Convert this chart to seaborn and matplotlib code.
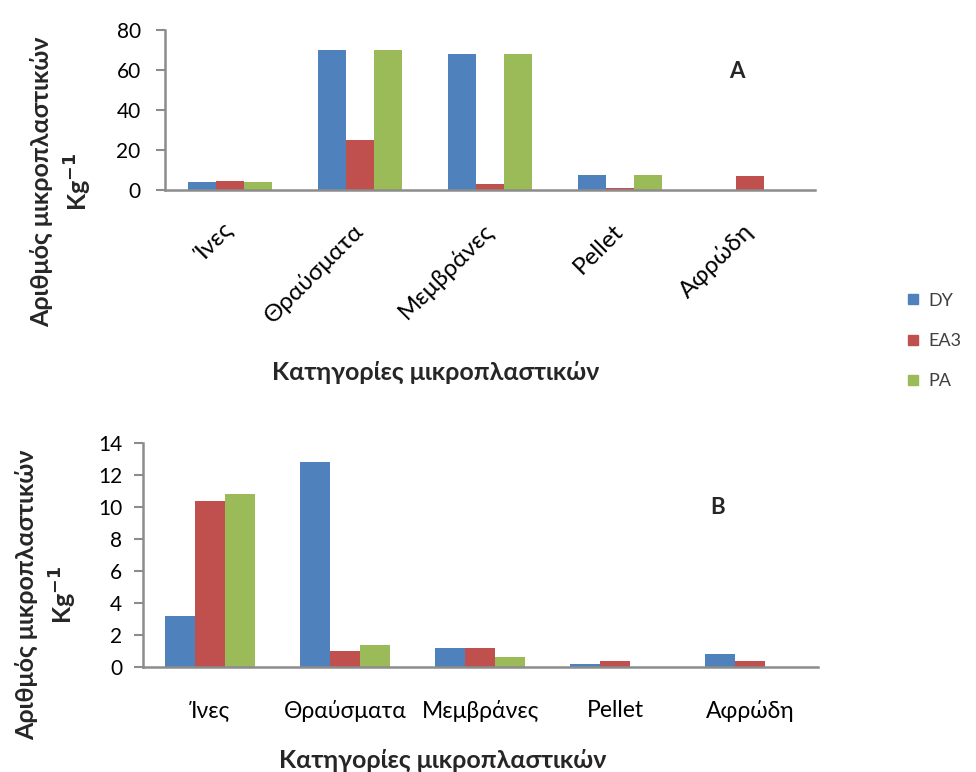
import matplotlib
matplotlib.use("Agg")
import matplotlib.pyplot as plt
import seaborn as sns
import pandas as pd
from matplotlib.lines import Line2D

sns.set_theme(style="white")
plt.rcParams['font.family'] = ['Lato', 'Open Sans', 'DejaVu Sans']

categories = ["Ίνες", "Θραύσματα", "Μεμβράνες", "Pellet", "Αφρώδη"]
series = ["DY", "EA3", "PA"]
colors = ["#4F81BD", "#C0504D", "#9BBB59"]

# Panel A values
a_dy = [4, 70, 68, 7.5, 0]
a_ea3 = [4.5, 25, 3, 1, 7]
a_pa = [4, 70, 68, 7.5, 0]

# Panel B values
b_dy = [3.2, 12.8, 1.2, 0.2, 0.8]
b_ea3 = [10.4, 1.0, 1.2, 0.4, 0.4]
b_pa = [10.8, 1.4, 0.6, 0.0, 0.0]

a_ticks = [0, 20, 40, 60, 80]
b_ticks = [0, 2, 4, 6, 8, 10, 12, 14]

ylab = "Αριθμός μικροπλαστικών\nKg$^{\\mathbf{-1}}$"
xlab = "Κατηγορίες μικροπλαστικών"


def long_df(dy, ea3, pa):
    rows = []
    for s, vals in zip(series, [dy, ea3, pa]):
        for c, v in zip(categories, vals):
            rows.append({"cat": c, "series": s, "value": v})
    return pd.DataFrame(rows)


dfA = long_df(a_dy, a_ea3, a_pa)
dfB = long_df(b_dy, b_ea3, b_pa)

fig = plt.figure(figsize=(9.76, 7.72), dpi=100)
W, H = 976, 772
axA = fig.add_axes([165 / W, 1 - 190 / H, 650 / W, 160 / H])
axB = fig.add_axes([142.5 / W, 1 - 667 / H, 675 / W, 224 / H])

spine_col = "#8C8C8C"
for ax, df, ticks, wid in [(axA, dfA, a_ticks, 0.65), (axB, dfB, b_ticks, 0.67)]:
    sns.barplot(data=df, x="cat", y="value", hue="series", order=categories,
                hue_order=series, palette=colors, width=wid, ax=ax,
                legend=False, saturation=1, linewidth=0, edgecolor="none")
    ax.set_xlim(-0.5, 4.5)
    ax.set_ylim(ticks[0], ticks[-1])
    ax.set_yticks(ticks)
    ax.set_yticklabels([str(t) for t in ticks])
    ax.set_xlabel("")
    ax.set_ylabel("")
    for s in ["top", "right"]:
        ax.spines[s].set_visible(False)
    for s in ["left", "bottom"]:
        ax.spines[s].set_color(spine_col)
        ax.spines[s].set_linewidth(1.8)
    ax.tick_params(axis="y", left=True, length=6.5, width=1.5, color=spine_col,
                   labelsize=15, pad=8, labelcolor="#000000")
    ax.tick_params(axis="x", bottom=False, length=0, labelcolor="#000000")
    ax.grid(False)

axA.tick_params(axis="y", pad=11)
axA.tick_params(axis="x", labelsize=17.5, pad=27)
for lbl in axA.get_xticklabels():
    lbl.set_rotation(45)
    lbl.set_ha("right")
    lbl.set_va("center")
    lbl.set_rotation_mode("anchor")
axB.tick_params(axis="x", labelsize=16.5, pad=24)

# axis titles
fig.text(62 / W, 1 - 182 / H, ylab, rotation=90, ha="center", va="center",
         fontsize=18, fontweight="bold", multialignment="center", linespacing=1.4)
fig.text(47 / W, 1 - 595 / H, ylab, rotation=90, ha="center", va="center",
         fontsize=18, fontweight="bold", multialignment="center", linespacing=1.4)
fig.text(436 / W, 1 - 372 / H, xlab, ha="center", va="center",
         fontsize=18, fontweight="bold")
fig.text(443 / W, 1 - 760 / H, xlab, ha="center", va="center",
         fontsize=18, fontweight="bold")

# panel letters
fig.text(737 / W, 1 - 72 / H, "A", ha="center", va="center", fontsize=16, fontweight="bold")
fig.text(718 / W, 1 - 507 / H, "B", ha="center", va="center", fontsize=16, fontweight="bold")

# legend
handles = [Line2D([], [], marker="s", linestyle="none", markersize=7,
                  markerfacecolor=c, markeredgecolor=c) for c in colors]
fig.legend(handles, series, loc="center left", bbox_to_anchor=(888 / W, 1 - 341 / H),
           frameon=False, fontsize=13, labelspacing=1.35, handletextpad=0.35,
           handlelength=1.0, labelcolor="#404040")

fig.savefig("out.png", dpi=100)
